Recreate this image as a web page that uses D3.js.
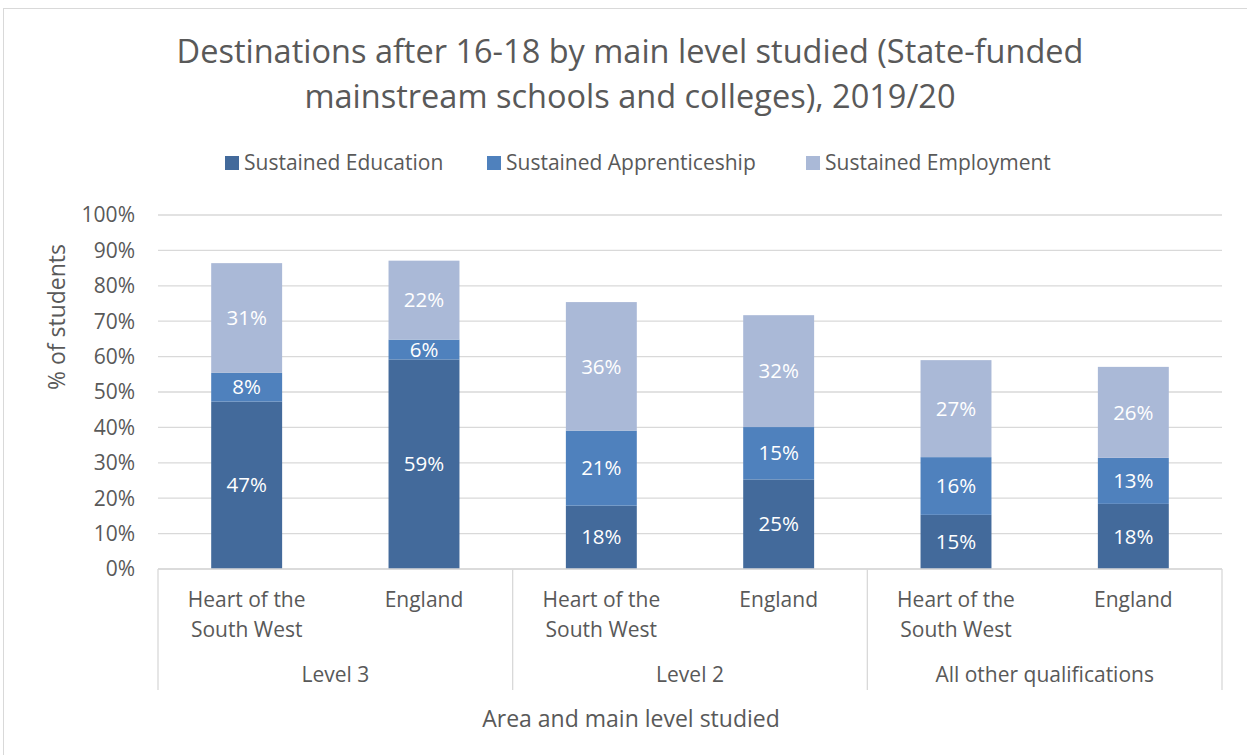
<!DOCTYPE html>
<meta charset="utf-8">
<style>
body { margin: 0; background: #fff; }
* { font-family: "Open Sans", sans-serif; }
</style>
<body>
<script src="https://cdn.jsdelivr.net/npm/d3@7"></script>
<script>

// data
var groups = ["Level 3", "Level 2", "All other qualifications"];
var areas = ["Heart of the South West", "England"];
var seriesNames = ["Sustained Education", "Sustained Apprenticeship", "Sustained Employment"];
var education = [47.3, 59.2, 17.9, 25.3, 15.3, 18.4];
var apprenticeship = [8.1, 5.6, 21.2, 14.8, 16.3, 13.0];
var employment = [31.0, 22.3, 36.3, 31.6, 27.4, 25.7];
var yTicks = [0, 10, 20, 30, 40, 50, 60, 70, 80, 90, 100];
var colors = ["#436a9b", "#4f81bd", "#aab9d7"];

var W = 1247, H = 755;
var margin = {top: 215, left: 158, right: 25, bottom: 186};
var width = W - margin.left - margin.right,
    height = H - margin.top - margin.bottom;
var textColor = "#595959";

var svg = d3.select("body").append("svg")
    .attr("width", W).attr("height", H);

// outer chart border
svg.append("rect")
    .attr("x", 3.5).attr("y", 8.5)
    .attr("width", W).attr("height", H)
    .attr("fill", "none").attr("stroke", "#d9d9d9");

var g = svg.append("g")
    .attr("transform", "translate(" + margin.left + "," + margin.top + ")");

var rows = [];
groups.forEach(function(grp, gi) {
  areas.forEach(function(a, ai) {
    var i = gi * 2 + ai;
    rows.push({key: grp + "|" + a, group: grp, area: a,
      "Sustained Education": education[i],
      "Sustained Apprenticeship": apprenticeship[i],
      "Sustained Employment": employment[i]});
  });
});

var x = d3.scaleBand().domain(rows.map(function(d) { return d.key; }))
    .range([0, width]).paddingInner(0.6).paddingOuter(0.3);
var y = d3.scaleLinear().domain([0, 100]).range([height, 0]);

// gridlines
g.selectAll(".grid").data(yTicks).enter().append("line")
    .attr("x1", 0).attr("x2", width)
    .attr("y1", function(d) { return y(d); })
    .attr("y2", function(d) { return y(d); })
    .attr("stroke", "#d9d9d9").attr("stroke-width", 1.3);

// y tick labels
g.selectAll(".ytick").data(yTicks).enter().append("text")
    .attr("x", -23).attr("y", function(d) { return y(d); })
    .attr("dy", "0.35em").attr("text-anchor", "end")
    .attr("font-size", 21).attr("fill", textColor)
    .text(function(d) { return d + "%"; });

var stack = d3.stack().keys(seriesNames)(rows);

var layer = g.selectAll(".layer").data(stack).enter().append("g")
    .attr("fill", function(d, i) { return colors[i]; });

layer.selectAll("rect").data(function(d) { return d; }).enter().append("rect")
    .attr("x", function(d) { return x(d.data.key); })
    .attr("width", x.bandwidth())
    .attr("y", function(d) { return y(d[1]); })
    .attr("height", function(d) { return y(d[0]) - y(d[1]); });

layer.selectAll("text").data(function(d) { return d; }).enter().append("text")
    .attr("x", function(d) { return x(d.data.key) + x.bandwidth() / 2; })
    .attr("y", function(d) { return (y(d[0]) + y(d[1])) / 2; })
    .attr("dy", "0.35em").attr("text-anchor", "middle")
    .attr("font-size", 20.5).attr("fill", "#fff")
    .text(function(d) { return Math.round(d[1] - d[0]) + "%"; });

// category axis (two levels)
var step = width / rows.length;
var axisColor = "#d9d9d9";
g.append("line").attr("x1", 0).attr("x2", width)
    .attr("y1", height).attr("y2", height)
    .attr("stroke", axisColor).attr("stroke-width", 1.3);
for (var k = 0; k <= groups.length; k++) {
  g.append("line")
      .attr("x1", k * step * 2).attr("x2", k * step * 2)
      .attr("y1", height).attr("y2", height + 121)
      .attr("stroke", axisColor).attr("stroke-width", 1.3);
}

rows.forEach(function(d) {
  var cx = x(d.key) + x.bandwidth() / 2;
  var words = d.area === "England" ? ["England"] : ["Heart of the", "South West"];
  words.forEach(function(w, li) {
    g.append("text")
        .attr("x", cx).attr("y", height + 31 + li * 30)
        .attr("dy", "0.35em").attr("text-anchor", "middle")
        .attr("font-size", 21).attr("fill", textColor)
        .text(w);
  });
});

groups.forEach(function(grp, gi) {
  g.append("text")
      .attr("x", (gi * 2 + 1) * step).attr("y", height + 106)
      .attr("dy", "0.35em").attr("text-anchor", "middle")
      .attr("font-size", 21).attr("fill", textColor)
      .text(grp);
});

// axis titles
svg.append("text")
    .attr("x", 631).attr("y", 719)
    .attr("dy", "0.35em").attr("text-anchor", "middle")
    .attr("font-size", 23).attr("fill", textColor)
    .text("Area and main level studied");

svg.append("text")
    .attr("transform", "translate(57,317)rotate(-90)")
    .attr("dy", "0.35em").attr("text-anchor", "middle")
    .attr("font-size", 23).attr("fill", textColor)
    .text("% of students");

// title
var titleLines = ["Destinations after 16-18 by main level studied (State-funded",
                  "mainstream schools and colleges), 2019/20"];
titleLines.forEach(function(t, i) {
  svg.append("text")
      .attr("x", 630).attr("y", 52 + i * 45)
      .attr("dy", "0.35em").attr("text-anchor", "middle")
      .attr("font-size", 32.5).attr("fill", textColor)
      .text(t);
});

// legend
var legendX = [225, 487, 806];
seriesNames.forEach(function(s, i) {
  var lg = svg.append("g").attr("transform", "translate(" + legendX[i] + ",163)");
  lg.append("rect").attr("x", 0).attr("y", -7).attr("width", 14).attr("height", 14)
      .attr("fill", colors[i]);
  lg.append("text").attr("x", 19).attr("y", 0).attr("dy", "0.35em")
      .attr("font-size", 21).attr("fill", textColor).text(s);
});

</script>
</body>
</html>
